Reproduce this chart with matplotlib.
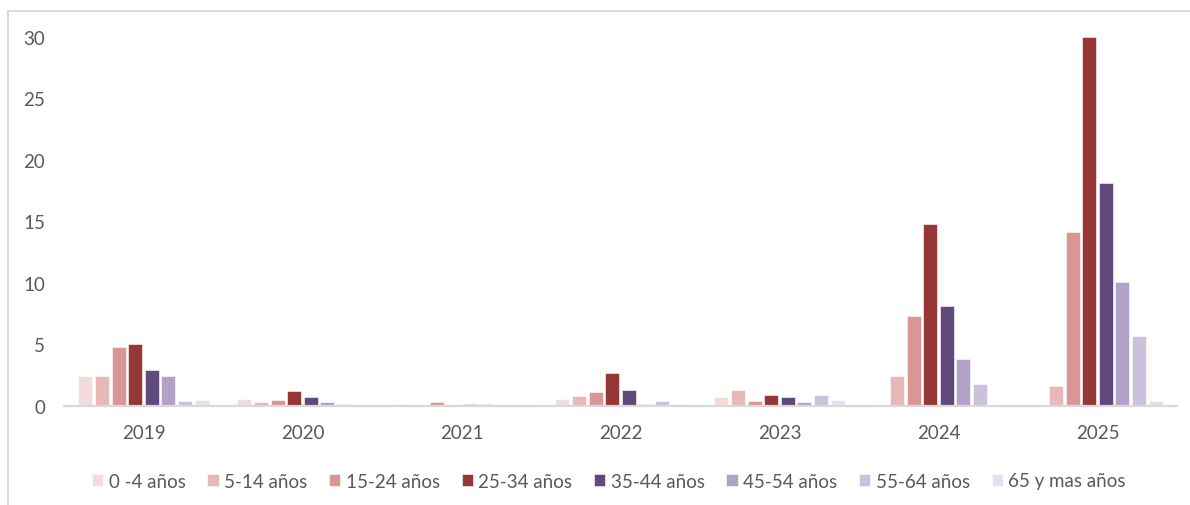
import matplotlib
matplotlib.use("Agg")
import matplotlib.pyplot as plt
import numpy as np
from matplotlib.lines import Line2D

# Data: cases by year and age group
years = ["2019", "2020", "2021", "2022", "2023", "2024", "2025"]
age_groups = ["0 -4 años", "5-14 años", "15-24 años", "25-34 años",
              "35-44 años", "45-54 años", "55-64 años", "65 y mas años"]

age_0_4 = [2.4, 0.6, 0.2, 0.6, 0.7, 0.0, 0.0]
age_5_14 = [2.4, 0.3, 0.0, 0.8, 1.3, 2.4, 1.6]
age_15_24 = [4.8, 0.5, 0.3, 1.1, 0.4, 7.3, 14.1]
age_25_34 = [5.0, 1.2, 0.0, 2.7, 0.9, 14.8, 30.0]
age_35_44 = [2.9, 0.7, 0.2, 1.3, 0.7, 8.1, 18.1]
age_45_54 = [2.4, 0.3, 0.2, 0.2, 0.3, 3.8, 10.1]
age_55_64 = [0.4, 0.2, 0.0, 0.4, 0.9, 1.8, 5.7]
age_65_plus = [0.5, 0.0, 0.0, 0.2, 0.5, 0.0, 0.4]

series = [age_0_4, age_5_14, age_15_24, age_25_34,
          age_35_44, age_45_54, age_55_64, age_65_plus]
colors = ["#F2DCDB", "#E6B9B8", "#DA9694", "#953735",
          "#604A7B", "#B3A2C7", "#CCC1DA", "#E4DFEC"]

plt.rcParams["font.family"] = ["Lato", "DejaVu Sans"]
text_color = "#595959"
grid_color = "#D9D9D9"

W, H = 1190, 506
fig = plt.figure(figsize=(W / 100, H / 100), dpi=100)
ax = fig.add_axes([64 / W, 1 - 407 / H, (1177 - 64) / W, (407 - 37.7) / H])

x = np.arange(len(years))
step = 0.1044
width = 0.088
for j, (vals, col, lab) in enumerate(zip(series, colors, age_groups)):
    ax.bar(x + (j - 3.5) * step, vals, width=width, color=col,
           edgecolor="white", linewidth=0.4, label=lab, clip_on=False,
           zorder=2)

ax.set_xlim(-0.5, len(years) - 0.5)
ax.set_ylim(0, 30)
ax.set_yticks(np.arange(0, 31, 5))
ax.set_xticks(x)
ax.set_xticklabels(years)

for s in ["top", "right", "left"]:
    ax.spines[s].set_visible(False)
ax.spines["bottom"].set_color(grid_color)
ax.spines["bottom"].set_linewidth(1.6)
ax.spines["bottom"].set_zorder(3)

ax.tick_params(axis="both", length=0, labelsize=13.5, colors=text_color)
ax.tick_params(axis="y", pad=13.5)
ax.tick_params(axis="x", pad=13)

leg = fig.legend(loc="center", bbox_to_anchor=(609 / W, 1 - 482 / H),
                 ncol=8, frameon=False, fontsize=13.5,
                 handlelength=0.6, handleheight=0.6, handletextpad=0.3,
                 columnspacing=1.15, labelcolor=text_color)

# Chart area border (top and left edges)
fig.add_artist(Line2D([7.5 / W, 1.0], [1 - 12.3 / H, 1 - 12.3 / H],
                      transform=fig.transFigure, color=grid_color, lw=1.4))
fig.add_artist(Line2D([7.5 / W, 7.5 / W], [0.0, 1 - 12.3 / H],
                      transform=fig.transFigure, color=grid_color, lw=1.4))

fig.savefig("out.png", dpi=100, facecolor="white")
